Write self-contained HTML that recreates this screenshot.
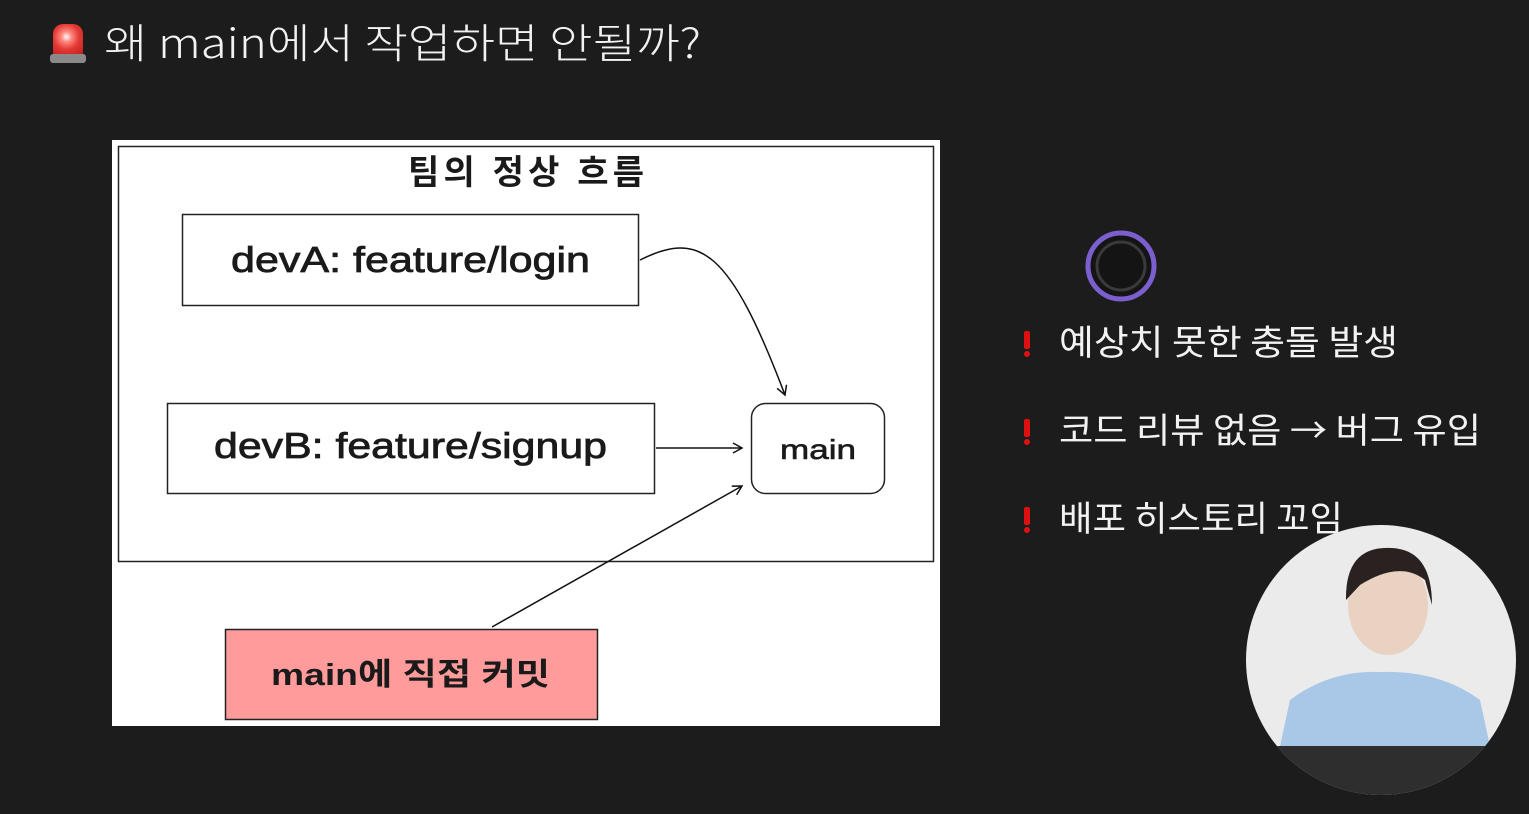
<!DOCTYPE html>
<html><head><meta charset="utf-8"><style>
html,body{margin:0;padding:0;background:#1c1c1c;width:1529px;height:814px;overflow:hidden;font-family:"Liberation Sans","Noto Sans CJK KR",sans-serif;}
</style></head><body>
<div style="position:absolute;left:50px;top:22px;width:36px;height:42px;">
<div style="position:absolute;left:3px;top:2px;width:30px;height:32px;background:radial-gradient(circle at 45% 40%,#fff 0,#ff8a80 20%,#e53935 50%,#b71c1c 100%);border-radius:10px 10px 2px 2px;"></div>
<div style="position:absolute;left:0;top:32px;width:36px;height:9px;background:#8a8a8a;border-radius:3px;"></div>
</div>
<svg style="position:absolute;left:0;top:0" width="1529" height="814">
<defs><marker id="a" markerWidth="12" markerHeight="12" refX="10" refY="6" orient="auto" markerUnits="userSpaceOnUse"><path d="M1,1 L10,6 L1,11" fill="none" stroke="#111" stroke-width="1.5"/></marker></defs>
<text x="104" y="58" font-family="'Noto Sans CJK KR',sans-serif" font-weight="300" font-size="41" fill="#f2f2f2" textLength="597" lengthAdjust="spacingAndGlyphs">왜 main에서 작업하면 안될까?</text>
<rect x="112" y="140" width="828" height="586" fill="#fff"/>
<rect x="118.5" y="146.5" width="815" height="415" fill="none" stroke="#222" stroke-width="1.5"/>
<rect x="182.5" y="214.5" width="456" height="91" fill="#fff" stroke="#222" stroke-width="1.5"/>
<rect x="167.5" y="403.5" width="487" height="90" fill="#fff" stroke="#222" stroke-width="1.5"/>
<rect x="751.5" y="403.5" width="133" height="90" rx="14" fill="#fff" stroke="#222" stroke-width="1.5"/>
<rect x="225.5" y="629.5" width="372" height="90" fill="#ff9b9b" stroke="#222" stroke-width="1.5"/>
<path d="M640,260 C700,230 730,250 785,395" fill="none" stroke="#111" stroke-width="1.5" marker-end="url(#a)"/>
<path d="M656,448 L742,448" fill="none" stroke="#111" stroke-width="1.5" marker-end="url(#a)"/>
<path d="M492,627 L742,486" fill="none" stroke="#111" stroke-width="1.5" marker-end="url(#a)"/>
<g font-family="'Liberation Sans','Noto Sans CJK KR',sans-serif" fill="#1a1a1a" font-size="34" font-weight="bold">
<text x="408" y="184" textLength="236" lengthAdjust="spacing">팀의 정상 흐름</text>
<text x="231" y="272" textLength="359" lengthAdjust="spacingAndGlyphs" font-size="36" font-weight="normal" stroke="#1a1a1a" stroke-width="0.8">devA: feature/login</text>
<text x="214" y="458" textLength="393" lengthAdjust="spacingAndGlyphs" font-size="36" font-weight="normal" stroke="#1a1a1a" stroke-width="0.8">devB: feature/signup</text>
<text x="780" y="459" textLength="76" lengthAdjust="spacingAndGlyphs" font-size="28" font-weight="normal" stroke="#1a1a1a" stroke-width="0.6">main</text>
<text x="271" y="685" textLength="279" lengthAdjust="spacingAndGlyphs" font-size="31">main에 직접 커밋</text>
</g>
<circle cx="1121" cy="266" r="33" fill="#141414" stroke="#7b5fcf" stroke-width="5"/>
<circle cx="1121" cy="266" r="24" fill="none" stroke="#3a3a3a" stroke-width="3"/>
<g font-family="'Noto Sans CJK KR',sans-serif" fill="#f2f2f2" font-size="35">
<text x="1059" y="355" textLength="339" lengthAdjust="spacingAndGlyphs">예상치 못한 충돌 발생</text>
<text x="1059" y="443" textLength="422" lengthAdjust="spacingAndGlyphs">코드 리뷰 없음 → 버그 유입</text>
<text x="1059" y="531" textLength="284" lengthAdjust="spacingAndGlyphs">배포 히스토리 꼬임</text>
</g>
<g fill="#e01010"><rect x="1024" y="331" width="6" height="18" rx="2"/><circle cx="1027" cy="354" r="3"/>
<rect x="1024" y="419" width="6" height="18" rx="2"/><circle cx="1027" cy="442" r="3"/>
<rect x="1024" y="507" width="6" height="18" rx="2"/><circle cx="1027" cy="530" r="3"/></g>
<clipPath id="c"><circle cx="1381" cy="660" r="135"/></clipPath>
<g clip-path="url(#c)">
<rect x="1240" y="520" width="290" height="300" fill="#ebebeb"/>
<path d="M1280,746 L1290,700 Q1330,670 1380,672 Q1440,670 1480,700 L1490,746 Z" fill="#a9c8e8"/>
<ellipse cx="1388" cy="605" rx="40" ry="50" fill="#ead2c3"/>
<path d="M1346,600 Q1345,545 1392,548 Q1432,550 1432,605 L1425,580 Q1400,560 1360,585 Z" fill="#2a2220"/>
<rect x="1240" y="746" width="290" height="70" fill="#2e2e2e"/>
</g>
</svg>
</body></html>
